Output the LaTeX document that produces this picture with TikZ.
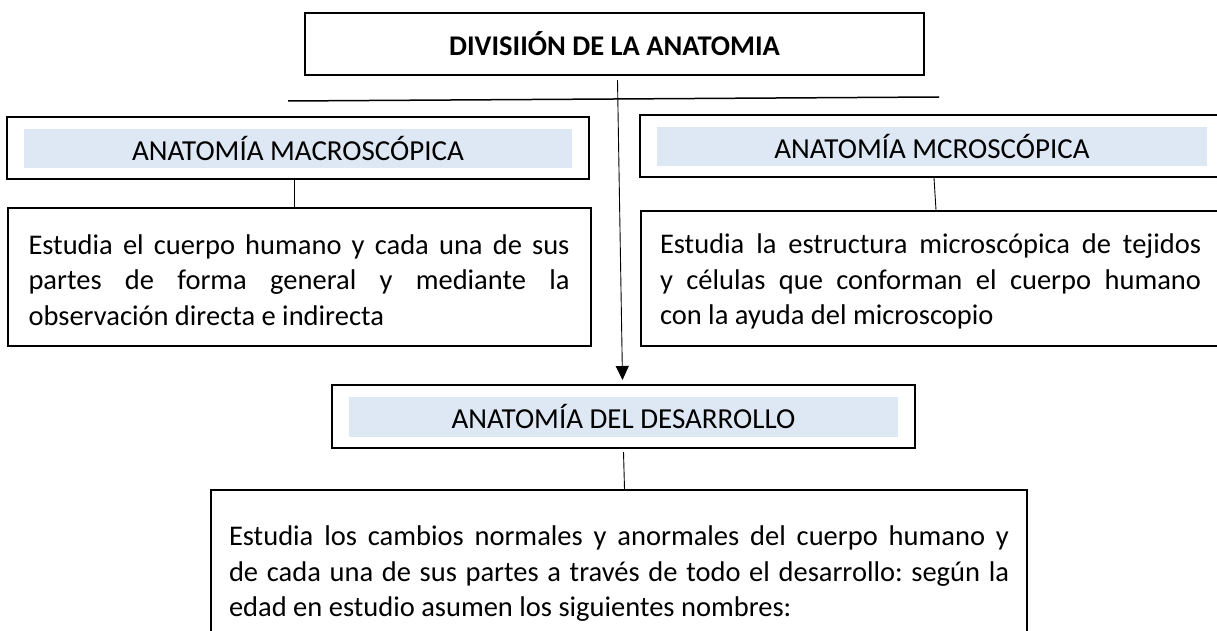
\documentclass[tikz,border=0pt]{standalone}
\usepackage{fontspec}
\setmainfont{Carlito}
\usetikzlibrary{arrows.meta,calc}
\definecolor{hdrfill}{HTML}{DEE8F4}
\begin{document}
\begin{tikzpicture}[x=1pt,y=-1pt,
  box/.style={draw=black,line width=2pt,inner sep=0pt,font=\fontsize{29}{35.5}\selectfont},
  hdr/.style={box,minimum height=62pt,path picture={\fill[hdrfill] ($(path picture bounding box.north west)+(17pt,-12pt)$) rectangle ($(path picture bounding box.south east)+(-17pt,11pt)$);}},
  desc/.style={box,align=justify,inner xsep=21pt,font=\fontsize{28.5}{35.5}\selectfont\frenchspacing},
  conn/.style={draw=black,line width=0.9pt}]
\useasboundingbox (0,0) rectangle (1217,631);
% title
\node[box,line width=2.4pt,minimum width=619pt,minimum height=62pt,font=\fontsize{28.5}{34}\selectfont\bfseries] (title) at (614.5,44) {DIVISIIÓN DE LA ANATOMIA};
% headers
\node[hdr,minimum width=582pt] (lh) at (298,148) {ANATOMÍA MACROSCÓPICA};
\node[hdr,minimum width=584pt] (rh) at (932,146) {ANATOMÍA MCROSCÓPICA};
\node[hdr,minimum width=583pt,minimum height=63pt] (bh) at (623.5,416.5) {ANATOMÍA DEL DESARROLLO};
% descriptions
\node[desc,text width=541pt,minimum height=138pt] (ld) at (299,277) {\rule{0pt}{27pt}Estudia el cuerpo humano y cada una de sus\linebreak partes de forma general y mediante la\linebreak observación directa e indirecta\rule[-2pt]{0pt}{2pt}};
\node[desc,text width=541pt,inner xsep=19.5pt,minimum height=135pt] (rd) at (930.5,278.5) {\rule{0pt}{26pt}Estudia la estructura microscópica de tejidos\linebreak y células que conforman el cuerpo humano\linebreak con la ayuda del microscopio\rule[-4pt]{0pt}{4pt}};
\node[desc,text width=780pt,inner xsep=18pt,inner ysep=31pt,anchor=north] (bd) at (619,489) {\strut Estudia los cambios normales y anormales del cuerpo humano y\linebreak de cada una de sus partes a través de todo el desarrollo: según la\linebreak edad en estudio asumen los siguientes nombres:\strut};
% lines
\draw[line width=1.5pt] (288,101) -- (939,97);
\draw[conn,-{Triangle[length=14pt,width=13pt]}] ($(title.south)+(3,4)$) -- ($(bh.north)+(-1,-4)$);
\draw[conn] ($(lh.south)+(-4,0)$) -- ($(lh.south |- ld.north)+(-4,0)$);
\draw[conn] ($(rh.south)+(2,0)$) -- ($(rh.south |- rd.north)+(4,0)$);
\draw[conn] ($(bh.south)+(0,3)$) -- ($(bh.south |- bd.north)+(1,0)$);
\end{tikzpicture}
\end{document}
